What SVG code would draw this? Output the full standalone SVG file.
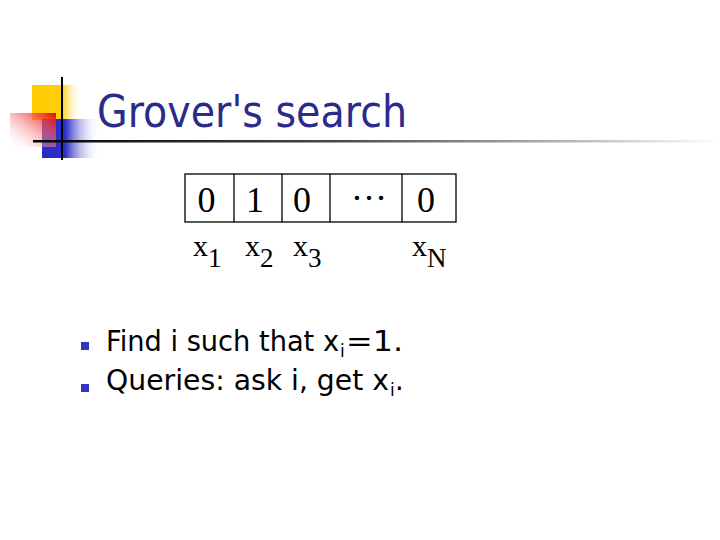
<svg xmlns="http://www.w3.org/2000/svg" width="720" height="540" viewBox="0 0 720 540">
<defs>
<linearGradient id="rule" x1="0" y1="0" x2="1" y2="0">
<stop offset="0" stop-color="#000"/>
<stop offset="0.45" stop-color="#4a4a4a"/>
<stop offset="1" stop-color="#fff"/>
</linearGradient>
<linearGradient id="blueG" x1="0" y1="0" x2="1" y2="0">
<stop offset="0" stop-color="#2a2ac4"/>
<stop offset="0.4" stop-color="#2e2ec8"/>
<stop offset="1" stop-color="#fff" stop-opacity="0"/>
</linearGradient>
<linearGradient id="redG" x1="1" y1="0" x2="0" y2="1">
<stop offset="0" stop-color="#f00000"/>
<stop offset="1" stop-color="#fff" stop-opacity="0.1"/>
</linearGradient>
<linearGradient id="yelG" x1="0" y1="0" x2="1" y2="0">
<stop offset="0" stop-color="#ffcc00"/>
<stop offset="0.6" stop-color="#ffcf10"/>
<stop offset="1" stop-color="#fff" stop-opacity="0"/>
</linearGradient>
<style>
.cell{fill:none;stroke:#000;stroke-width:1.3}
.tm{font-family:"Liberation Serif",serif;font-size:36px;fill:#000}
.lb{font-family:"Liberation Serif",serif;font-size:30px;fill:#000}
.sub{font-size:27px}
.bt{font-family:"DejaVu Sans",sans-serif;font-size:27.5px;fill:#000}
.bs{font-family:"DejaVu Sans",sans-serif;font-size:17px;fill:#000}
.sq{fill:#3333c8}
</style>
</defs>
<g id="logo">
<rect x="32" y="85" width="50" height="35" fill="url(#yelG)"/>
<rect x="42" y="119" width="58" height="39" fill="url(#blueG)"/>
<rect x="10" y="113" width="46" height="34" fill="url(#redG)"/>
<line x1="62" y1="77" x2="62" y2="160" stroke="#000" stroke-width="2"/>
<rect x="33" y="140" width="687" height="2.5" fill="url(#rule)"/>
</g>
<text id="title" x="97" y="127" font-family="DejaVu Sans, sans-serif" font-size="45" fill="#2b2b8c" textLength="310" lengthAdjust="spacingAndGlyphs">Grover's search</text>
<g id="array">
<rect class="cell" x="185" y="174" width="271" height="48"/>
<line class="cell" x1="234" y1="174" x2="234" y2="222"/>
<line class="cell" x1="282" y1="174" x2="282" y2="222"/>
<line class="cell" x1="330" y1="174" x2="330" y2="222"/>
<line class="cell" x1="402" y1="174" x2="402" y2="222"/>
<text class="tm" x="206.5" y="212" text-anchor="middle">0</text>
<text class="tm" x="255" y="212" text-anchor="middle">1</text>
<text class="tm" x="302" y="212" text-anchor="middle">0</text>
<text class="tm" x="369" y="200" text-anchor="middle" font-size="26">…</text>
<text class="tm" x="426" y="212" text-anchor="middle">0</text>
</g>
<g id="labels">
<text class="lb" x="193" y="256">x<tspan class="sub" dy="11">1</tspan></text>
<text class="lb" x="245" y="256">x<tspan class="sub" dy="11">2</tspan></text>
<text class="lb" x="293" y="256">x<tspan class="sub" dy="11">3</tspan></text>
<text class="lb" x="412" y="256">x<tspan class="sub" dy="11">N</tspan></text>
</g>
<g id="bullets">
<rect class="sq" x="81" y="342" width="8" height="8"/>
<rect class="sq" x="81" y="384" width="8" height="8"/>
<text class="bt" x="106" y="351" textLength="233" lengthAdjust="spacingAndGlyphs">Find i such that x</text>
<text class="bs" x="340" y="357">i</text>
<text class="bt" x="346" y="351" textLength="57" lengthAdjust="spacingAndGlyphs">=1.</text>
<text class="bt" x="106" y="390" textLength="283" lengthAdjust="spacingAndGlyphs">Queries: ask i, get x</text>
<text class="bs" x="390" y="396">i</text>
<text class="bt" x="395" y="390">.</text>
</g>
</svg>
